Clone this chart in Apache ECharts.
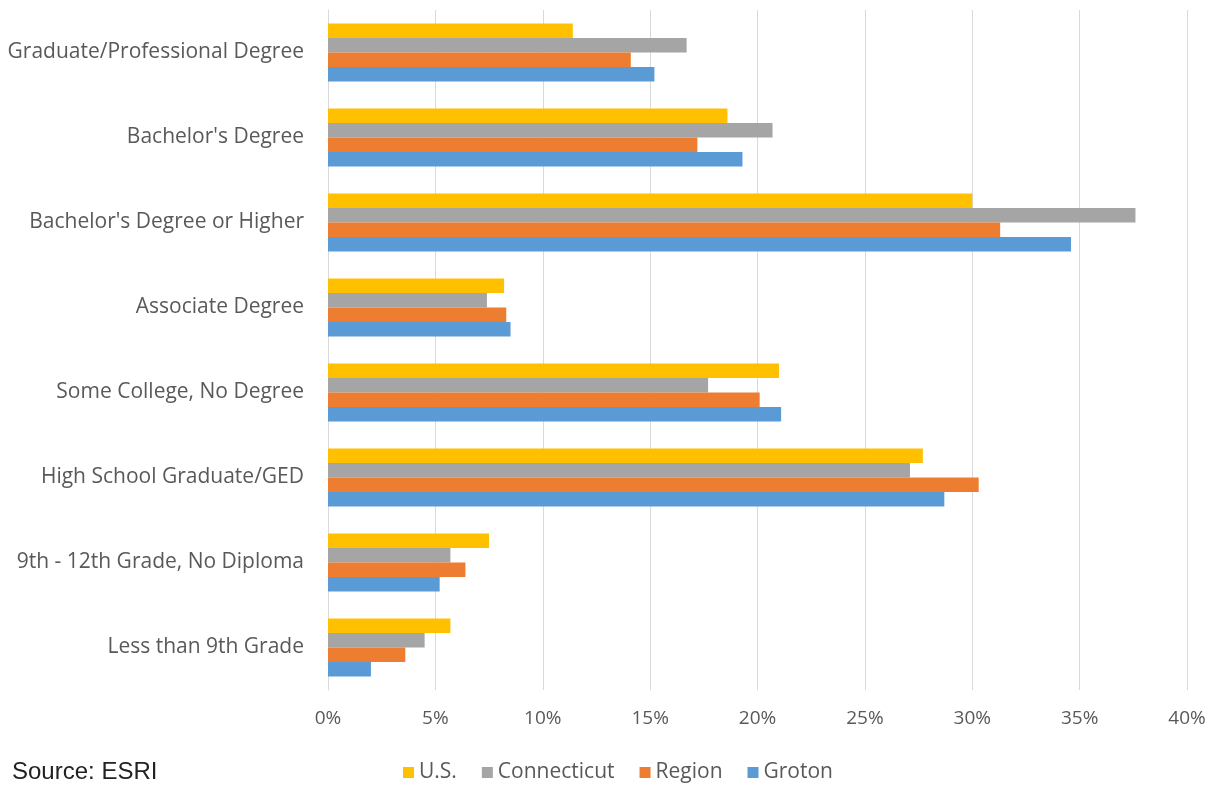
<!DOCTYPE html>
<html><head><meta charset="utf-8">
<script src="https://cdn.jsdelivr.net/npm/echarts@6/dist/echarts.min.js"></script>
<style>html,body{margin:0;padding:0;background:#fff}#c{width:1225px;height:792px}</style>
</head><body><div id="c"></div>
<script>
const categories = ["Graduate/Professional Degree","Bachelor's Degree","Bachelor's Degree or Higher","Associate Degree","Some College, No Degree","High School Graduate/GED","9th - 12th Grade, No Diploma","Less than 9th Grade"];
const seriesNames = ["U.S.","Connecticut","Region","Groton"];
const usValues = [11.4,18.6,30.0,8.2,21.0,27.7,7.5,5.7];
const ctValues = [16.7,20.7,37.6,7.4,17.7,27.1,5.7,4.5];
const regionValues = [14.1,17.2,31.3,8.3,20.1,30.3,6.4,3.6];
const grotonValues = [15.2,19.3,34.6,8.5,21.1,28.7,5.2,2.0];
const xTicks = {min:0,max:40,interval:5};
const colors = ["#FFC000","#A5A5A5","#ED7D31","#5B9BD5"];
const values = [usValues, ctValues, regionValues, grotonValues];
const font = "'Open Sans', 'Noto Sans', sans-serif";
const chart = echarts.init(document.getElementById('c'));
chart.setOption({
  animation:false,
  color: colors,
  graphic:[{type:'text',left:12,top:760,style:{text:'Source: ESRI',font:"24px 'Liberation Sans', Arial, sans-serif",fill:'#222'}}],
  legend:{bottom:4,left:398,itemWidth:11,itemHeight:11,itemGap:25,icon:'rect',
    textStyle:{fontFamily:font,fontSize:21,color:'#595959',padding:[0,0,0,0]},data:seriesNames},
  grid:{left:328,right:38,top:10,bottom:102},
  xAxis:{type:'value',min:xTicks.min,max:xTicks.max,interval:xTicks.interval,
    axisLabel:{formatter:v=>v+'%',fontFamily:font,fontSize:19,color:'#595959',margin:19},
    splitLine:{lineStyle:{color:'#d9d9d9',width:1}},axisLine:{show:false},axisTick:{show:false}},
  yAxis:{type:'category',data:categories,inverse:true,
    axisLabel:{fontFamily:font,fontSize:21,color:'#595959',margin:24},
    axisLine:{show:true,lineStyle:{color:'#d9d9d9'}},axisTick:{show:false}},
  series: seriesNames.map((n,i)=>({name:n,type:'bar',data:values[i],barGap:'0%',barCategoryGap:'32%'}))
});
</script></body></html>
